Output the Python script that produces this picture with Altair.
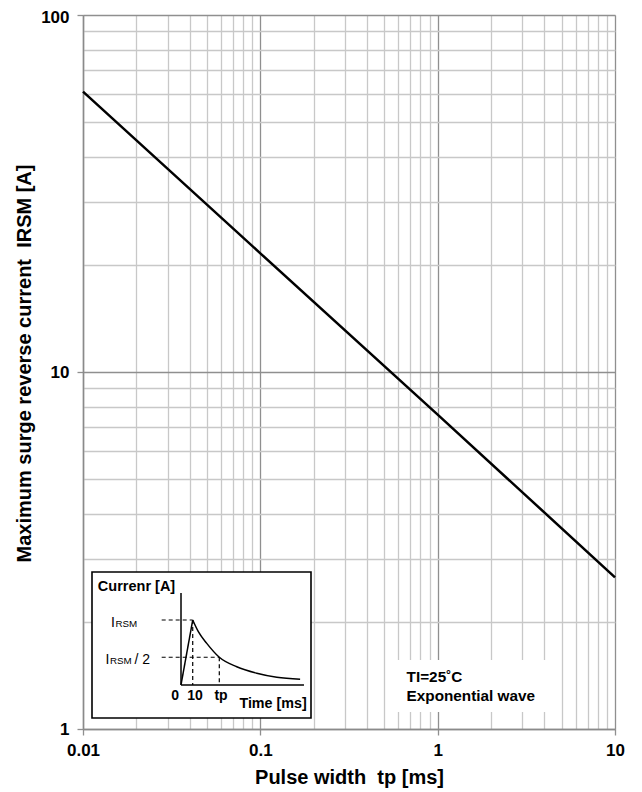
import altair as alt
import pandas as pd

# ---------------- data ----------------
PULSE_WIDTH = [0.01, 0.1, 1, 10]          # ms
IRSM = [61.0, 21.5, 7.6, 2.66]            # A

X_MAJOR = [0.01, 0.1, 1, 10]
Y_MAJOR = [1, 10, 100]
X_GRID = [m * 10 ** e for e in (-2, -1, 0) for m in range(1, 10)] + [10]
Y_GRID = [m * 10 ** e for e in (0, 1) for m in range(1, 10)] + [100]

X_TITLE = "Pulse width\u00a0 tp [ms]"
Y_TITLE = "Maximum surge reverse current\u00a0 IRSM [A]"

NOTE_LINES = ["TI=25˚C", "Exponential wave"]
NOTE_X = [0.668, 0.668]
NOTE_Y = [1.351, 1.2]
NOTE_BOX_X = [0.538, 4.59]
NOTE_BOX_Y = [1.116, 1.56]

# inset (its own time / relative-current units)
INSET_T = [-76, 111]
INSET_I = [-0.51, 1.74]
WAVE_T = [0, 10, 14.8, 22, 32.7, 47.6, 64.7, 81.8, 101.7]
WAVE_I = [0, 1.0, 0.82, 0.64, 0.426, 0.28, 0.18, 0.118, 0.088]
AXES_SEG = [(0, 0, 0, 1.415), (0, 0, 105, 0)]
DASH_SEG = [(-16.5, 1.0, 10, 1.0), (10, 1.0, 10, 0),
            (-16.5, 0.426, 32.7, 0.426), (32.7, 0.426, 32.7, 0)]
TICK_LBL = ["0", "10", "tp"]
TICK_T = [-5.1, 12, 34.2]
TICK_I = [-0.23, -0.23, -0.23]

FONT = "Liberation Sans"
W, H = 532, 714

# ---------------- main chart ----------------
major_x = "indexof([0.01,0.1,1,10], datum.value) >= 0"
major_y = "indexof([1,10,100], datum.value) >= 0"


def axis_common(test):
    return dict(
        grid=True,
        gridColor={"condition": {"test": test, "value": "#8f8f8f"}, "value": "#c8c8c8"},
        gridWidth=1.3,
        tickColor={"condition": {"test": test, "value": "#8f8f8f"}, "value": "transparent"},
        tickSize=6,
        tickWidth=1.3,
        domainColor="#8a8a8a",
        domainWidth=1.5,
        labelExpr=f"({test}) ? format(datum.value, '~f') : ''",
        labelFont=FONT,
        labelFontSize=17,
        labelFontWeight="bold",
        labelColor="black",
        titleFont=FONT,
        titleFontSize=20,
        titleFontWeight="bold",
        titleColor="black",
        labelOverlap=False,
        labelFlush=False,
    )


xs_main = alt.Scale(type="log", domain=[0.01, 10], nice=False)
ys_main = alt.Scale(type="log", domain=[1, 100], nice=False)

main_df = pd.DataFrame({"tp": PULSE_WIDTH, "irsm": IRSM})

line = alt.Chart(main_df).mark_line(color="black", strokeWidth=2.5).encode(
    x=alt.X("tp:Q", scale=xs_main,
            axis=alt.Axis(values=X_GRID, labelPadding=7,
                          title=X_TITLE, titleX=W / 2, titleY=48,
                          titleBaseline="middle", **axis_common(major_x))),
    y=alt.Y("irsm:Q", scale=ys_main,
            axis=alt.Axis(values=Y_GRID, labelPadding=8,
                          labelOffset={"condition": {"test": "datum.value == 100", "value": 2.5},
                                       "value": 0},
                          title=Y_TITLE,
                          titleX=-59, titleY=348, titleAngle=270,
                          titleAlign="center", titleBaseline="middle",
                          **axis_common(major_y))),
)

note_box = alt.Chart(pd.DataFrame({"x": [NOTE_BOX_X[0]], "x2": [NOTE_BOX_X[1]],
                                   "y": [NOTE_BOX_Y[0]], "y2": [NOTE_BOX_Y[1]]})
                     ).mark_rect(fill="white").encode(
    x=alt.X("x:Q", scale=xs_main, axis=None), x2="x2:Q",
    y=alt.Y("y:Q", scale=ys_main, axis=None), y2="y2:Q")

note_text = alt.Chart(pd.DataFrame({"x": NOTE_X, "y": NOTE_Y, "t": NOTE_LINES})).mark_text(
    align="left", baseline="alphabetic", font=FONT, fontSize=15.3, fontWeight="bold", color="black"
).encode(x=alt.X("x:Q", scale=xs_main, axis=None),
         y=alt.Y("y:Q", scale=ys_main, axis=None), text="t:N")

# ---------------- inset ----------------
its = alt.Scale(domain=INSET_T, range=[9, 228], nice=False, zero=False)
iis = alt.Scale(domain=INSET_I, range=[703, 557], nice=False, zero=False)


def IX(f):
    return alt.X(f, type="quantitative", scale=its, axis=None)


def IY(f):
    return alt.Y(f, type="quantitative", scale=iis, axis=None)


inset_box = alt.Chart(pd.DataFrame({"a": [INSET_T[0]], "b": [INSET_T[1]],
                                    "c": [INSET_I[0]], "d": [INSET_I[1]]})
                      ).mark_rect(fill="white", stroke="black", strokeWidth=1.6).encode(
    x=IX("a"), x2="b", y=IY("c"), y2="d")

seg_df = pd.DataFrame(AXES_SEG, columns=["a", "b", "c", "d"])
inset_axes = alt.Chart(seg_df).mark_rule(color="black", strokeWidth=1.5).encode(
    x=IX("a"), y=IY("b"), x2="c", y2="d")

dash_df = pd.DataFrame(DASH_SEG, columns=["a", "b", "c", "d"])
inset_dash = alt.Chart(dash_df).mark_rule(color="black", strokeWidth=1.2, strokeDash=[4, 3]).encode(
    x=IX("a"), y=IY("b"), x2="c", y2="d")

wave_df = pd.DataFrame({"t": WAVE_T, "i": WAVE_I})
rise = alt.Chart(wave_df.iloc[:2]).mark_line(color="black", strokeWidth=1.5).encode(
    x=IX("t"), y=IY("i"), order="t:Q")
decay = alt.Chart(wave_df.iloc[1:]).mark_line(color="black", strokeWidth=1.5,
                                              interpolate="monotone").encode(
    x=IX("t"), y=IY("i"), order="t:Q")


def itext(labels, ts, is_, size, weight, align):
    df = pd.DataFrame({"t": ts, "i": is_, "s": labels})
    return alt.Chart(df).mark_text(align=align, baseline="alphabetic", font=FONT,
                                   fontSize=size, fontWeight=weight, color="black").encode(
        x=IX("t"), y=IY("i"), text="s:N")


lbl_title = itext(["Currenr [A]"], [-71], [1.44], 14.5, "bold", "left")
lbl_I = itext(["I", "I", "/ 2"], [-59.8, -64.5, -39.8], [0.897, 0.318, 0.318], 14, "normal", "left")
lbl_RSM = itext(["RSM", "RSM"], [-56, -60.7], [0.897, 0.318], 9.8, "normal", "left")
lbl_ticks = itext(TICK_LBL, TICK_T, TICK_I, 14, "bold", "center")
lbl_time = itext(["Time [ms]"], [78.6], [-0.354], 14.3, "bold", "center")

chart = alt.layer(
    line, note_box, note_text,
    inset_box, inset_axes, inset_dash, rise, decay,
    lbl_title, lbl_I, lbl_RSM, lbl_ticks, lbl_time,
).resolve_scale(x="independent", y="independent").properties(
    width=W, height=H,
    autosize=alt.AutoSizeParams(type="none"),
    padding={"left": 75, "top": 7, "right": 10, "bottom": 60},
).configure_view(stroke=None).configure(background="white")

chart.save("out.html", embed_options={"renderer": "svg", "actions": False})
